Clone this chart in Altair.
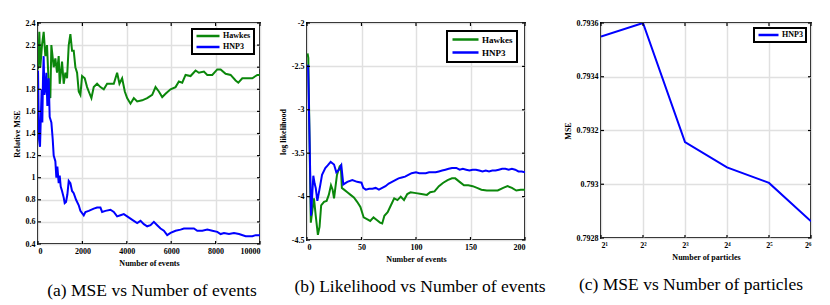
import altair as alt
import pandas as pd

GREEN = "#0b870b"
BLUE = "#0000ff"
FONT = "Liberation Serif"

# ---------------- panel (a): relative MSE vs number of events ----------------
a_hawkes_x = [0, 60, 105, 180, 256, 331, 406, 481, 556, 602, 707, 782, 857, 932, 978,
              1083, 1158, 1233, 1308, 1384, 1459, 1534, 1609, 1684, 1760, 1835, 1910, 1985,
              2105, 2211, 2286, 2406, 2511, 2662, 2812, 2963, 3113, 3263, 3414, 3564, 3669,
              3790, 3910, 4015, 4166, 4316, 4467, 4692, 4918, 5144, 5294, 5444, 5595, 5745,
              5971, 6196, 6346, 6497, 6647, 6872, 7098, 7248, 7474, 7624, 7850, 8075, 8226,
              8451, 8677, 8902, 9023, 9203, 9428, 9654, 9804, 9880, 10000]
a_hawkes_y = [1.98, 2.32, 2.0, 2.2, 2.32, 2.1, 2.2, 1.85, 1.72, 2.2, 2.0, 2.08, 1.95, 2.1, 1.85,
              2.05, 1.85, 1.95, 1.9, 2.2, 2.3, 2.15, 2.15, 2.0, 1.95, 1.78, 1.75, 1.92,
              1.9, 1.82, 1.78, 1.72, 1.82, 1.85, 1.82, 1.8, 1.85, 1.85, 1.85, 1.95, 1.85,
              1.9, 1.78, 1.72, 1.67, 1.72, 1.69, 1.70, 1.72, 1.75, 1.82, 1.78, 1.73, 1.76,
              1.80, 1.82, 1.87, 1.86, 1.93, 1.92, 1.97, 1.95, 1.96, 1.93, 1.93, 1.98, 1.98,
              1.94, 1.93, 1.88, 1.86, 1.90, 1.90, 1.90, 1.92, 1.93, 1.93]
a_hnp3_x = [0, 45, 90, 135, 165, 195, 225, 255, 290, 331, 376, 421, 481, 526, 602, 662, 707,
            782, 827, 872, 932, 978, 1023, 1083, 1158, 1203, 1263, 1324, 1384, 1459, 1534,
            1609, 1715, 1835, 1910, 2060, 2136, 2286, 2512, 2662, 2812, 2888, 3038, 3264,
            3414, 3564, 3715, 3865, 4016, 4166, 4316, 4467, 4617, 4768, 4918, 5068, 5219,
            5369, 5520, 5670, 5820, 5971, 6196, 6422, 6572, 6798, 7024, 7174, 7400, 7625,
            7851, 8076, 8226, 8377, 8603, 8828, 9054, 9355, 9655, 9806, 10000]
a_hnp3_y = [1.97, 1.35, 1.28, 1.6, 1.8, 1.5, 1.9, 2.1, 1.75, 1.80, 1.95, 1.65, 1.9, 1.55, 1.5,
            1.35, 1.2, 1.15, 1.0, 1.1, 0.95, 1.02, 0.92, 0.88, 0.82, 0.77, 0.78, 0.85, 0.97,
            0.95, 0.88, 0.86, 0.80, 0.75, 0.70, 0.66, 0.69, 0.70, 0.72, 0.73, 0.73, 0.69,
            0.70, 0.71, 0.69, 0.65, 0.66, 0.67, 0.65, 0.63, 0.61, 0.59, 0.61, 0.58, 0.56,
            0.57, 0.60, 0.57, 0.54, 0.52, 0.48, 0.50, 0.52, 0.53, 0.54, 0.54, 0.54, 0.52,
            0.52, 0.53, 0.52, 0.51, 0.49, 0.50, 0.49, 0.50, 0.49, 0.47, 0.47, 0.48, 0.48]
a_xticks = [0, 2000, 4000, 6000, 8000, 10000]
a_yticks = [0.4, 0.6, 0.8, 1.0, 1.2, 1.4, 1.6, 1.8, 2.0, 2.2, 2.4]

# ---------------- panel (b): log likelihood vs number of events ----------------
b_hawkes_x = [0.5, 1.2, 3.5, 5, 6.4, 8, 10, 11.5, 13, 15.6, 18, 20, 22, 23.5, 24.8, 26, 27.5,
              30, 31, 32, 34, 37, 40, 43, 46, 49, 52, 55, 58, 61, 64, 67, 69, 71, 74, 77, 80,
              83, 86, 89, 92, 95, 100, 105, 110, 113, 117, 121, 125, 129, 133, 136, 140, 144,
              148, 152, 156, 160, 165, 170, 175, 180, 184, 188, 192, 196, 200]
b_hawkes_y = [-2.35, -2.4, -4.3, -4.15, -4.02, -4.22, -4.44, -4.35, -4.1, -4.06, -4.05, -3.98,
              -3.87, -3.92, -4.02, -3.9, -3.75, -3.65, -3.64, -3.9, -3.92, -3.95, -3.98, -4.01,
              -4.06, -4.12, -4.24, -4.26, -4.28, -4.24, -4.27, -4.3, -4.31, -4.22, -4.18,
              -4.1, -4.02, -4.04, -4.0, -4.04, -3.97, -3.95, -3.96, -3.97, -3.98, -3.95,
              -3.94, -3.88, -3.84, -3.81, -3.79, -3.79, -3.83, -3.87, -3.87, -3.88, -3.90,
              -3.92, -3.93, -3.93, -3.93, -3.9, -3.88, -3.9, -3.93, -3.92, -3.92]
b_hnp3_x = [1, 3.7, 5.8, 7, 8, 9.5, 12, 13.8, 16.8, 19, 21.7, 24.8, 26.9, 29.4, 31.5, 33.3,
            37, 41.6, 46, 50, 51.6, 54, 57, 60, 63, 66, 69, 72, 75, 78, 81, 84, 87, 90, 93,
            96, 100, 103, 106, 109, 112, 115, 118, 121, 124, 127, 130, 133, 137, 140, 143,
            146, 149, 152, 155, 158, 161, 164, 167, 170, 173, 176, 179, 182, 185, 188, 191,
            194, 197, 200]
b_hnp3_y = [-2.48, -4.22, -3.76, -3.85, -3.9, -4.05, -3.88, -3.75, -3.67, -3.64, -3.6, -3.63,
            -3.72, -3.69, -3.64, -3.86, -3.83, -3.81, -3.83, -3.84, -3.9, -3.92, -3.91,
            -3.91, -3.9, -3.92, -3.9, -3.88, -3.85, -3.83, -3.81, -3.79, -3.78, -3.77,
            -3.75, -3.73, -3.72, -3.73, -3.73, -3.73, -3.72, -3.72, -3.72, -3.71, -3.70,
            -3.69, -3.68, -3.67, -3.67, -3.69, -3.68, -3.69, -3.70, -3.69, -3.69, -3.70,
            -3.71, -3.70, -3.71, -3.70, -3.70, -3.69, -3.68, -3.68, -3.69, -3.68, -3.69,
            -3.71, -3.71, -3.72]
b_xticks = [0, 50, 100, 150, 200]
b_yticks = [-4.5, -4.0, -3.5, -3.0, -2.5, -2.0]

# ---------------- panel (c): MSE vs number of particles ----------------
c_log2_particles = [1, 2, 3, 4, 5, 6]
c_hnp3_mse = [0.79355, 0.79360, 0.793157, 0.793063, 0.793005, 0.792862]
c_xticks = [1, 2, 3, 4, 5, 6]
c_yticks = [0.7928, 0.7930, 0.7932, 0.7934, 0.7936]

captions = ["(a) MSE vs Number of events",
            "(b) Likelihood vs Number of events",
            "(c) MSE vs Number of particles"]


def long_df(series):
    rows = []
    for name, xs, ys in series:
        for x, y in zip(xs, ys, strict=True):
            rows.append({"x": x, "y": y, "series": name})
    return pd.DataFrame(rows)


def panel(df, names, colors, xdom, ydom, xv, yv, xtitle, ytitle, w, h, caption,
          legend, xaxis_kw, yaxis_kw, cap_dx):
    xs = alt.Scale(domain=xdom, nice=False, zero=False)
    ys = alt.Scale(domain=ydom, nice=False, zero=False)
    xa = alt.Axis(title=xtitle, values=xv, **xaxis_kw)
    ya = alt.Axis(title=ytitle, values=yv, **yaxis_kw)
    lines = alt.Chart(df).mark_line(strokeWidth=2, clip=True).encode(
        x=alt.X("x:Q", scale=xs, axis=xa),
        y=alt.Y("y:Q", scale=ys, axis=ya),
        color=alt.Color("series:N", scale=alt.Scale(domain=names, range=colors),
                        legend=legend),
    )
    xt = pd.DataFrame({"v": xv})
    yt = pd.DataFrame({"v": yv})
    tk = dict(color="black", strokeWidth=1.2)
    xb = alt.Chart(xt).mark_rule(**tk).encode(
        x=alt.X("v:Q", scale=xs, axis=xa), y=alt.value(h - 3), y2=alt.value(h))
    xtop = alt.Chart(xt).mark_rule(**tk).encode(
        x=alt.X("v:Q", scale=xs, axis=xa), y=alt.value(0), y2=alt.value(3))
    yl = alt.Chart(yt).mark_rule(**tk).encode(
        y=alt.Y("v:Q", scale=ys, axis=ya), x=alt.value(0), x2=alt.value(3))
    yr = alt.Chart(yt).mark_rule(**tk).encode(
        y=alt.Y("v:Q", scale=ys, axis=ya), x=alt.value(w - 3), x2=alt.value(w))
    return alt.layer(lines, xb, xtop, yl, yr).properties(
        width=w, height=h,
        title=alt.TitleParams(text=caption, orient="bottom", anchor="middle", frame="group",
                              font=FONT, fontSize=17.5, fontWeight="normal", color="black",
                              offset=15, dx=cap_dx),
    )


def legend(offset, size, font_size, pad, row_pad, clip):
    return alt.Legend(title=None, orient="top-right", offset=offset, symbolType="stroke",
                      symbolSize=size, symbolStrokeWidth=2.5, labelFont=FONT,
                      labelFontWeight="bold", labelFontSize=font_size, labelColor="black",
                      strokeColor="black", fillColor="white", padding=pad,
                      rowPadding=row_pad, labelOffset=2, clipHeight=clip)


def spacer(w):
    return alt.Chart(pd.DataFrame({"s": [0]})).mark_point(opacity=0).encode(
        x=alt.X("s:Q", axis=None), y=alt.Y("s:Q", axis=None)
    ).properties(width=w, height=20, view=alt.ViewBackground(stroke="transparent"))


df_a = long_df([("Hawkes", a_hawkes_x, a_hawkes_y), ("HNP3", a_hnp3_x, a_hnp3_y)])
df_b = long_df([("Hawkes", b_hawkes_x, b_hawkes_y), ("HNP3", b_hnp3_x, b_hnp3_y)])
df_c = long_df([("HNP3", c_log2_particles, c_hnp3_mse)])

neg_expr = "datum.value < 0 ? '-' + format(-datum.value, '~g') : format(datum.value, '~g')"
sup_expr = "'2' + ['', '¹', '²', '³', '⁴', '⁵', '⁶'][datum.value]"

pa = panel(df_a, ["Hawkes", "HNP3"], [GREEN, BLUE], [0, 10000], [0.4, 2.4],
           a_xticks, a_yticks, "Number of events", "Relative MSE", 222, 221, captions[0],
           legend(6, 529, 8, 3, 3, 8), dict(format="d"), dict(format="~g"), 3)
pb = panel(df_b, ["Hawkes", "HNP3"], [GREEN, BLUE], [0, 200], [-4.5, -2.0],
           b_xticks, b_yticks, "Number of events", "log likelihood", 218, 217, captions[1],
           legend(8, 676, 9, 4, 3, 9), dict(format="d"), dict(labelExpr=neg_expr), 4)
pc = panel(df_c, ["HNP3"], [BLUE], [1, 6], [0.7928, 0.7936],
           c_xticks, c_yticks, "Number of particles", "MSE", 210, 215, captions[2],
           legend(5, 400, 8, 3, 3, 8), dict(labelExpr=sup_expr), dict(format=".4~f"), -15)

chart = alt.hconcat(pa, spacer(47), pb, spacer(76), pc, spacing=0, bounds="flush").resolve_scale(
    x="independent", y="independent", color="independent"
).resolve_legend(color="independent").properties(
    padding={"left": 4, "top": 10, "right": 5, "bottom": 2}
).configure_view(
    stroke="black", strokeWidth=2
).configure_axis(
    labelFont=FONT, labelFontWeight="bold", labelFontSize=8, labelColor="black",
    titleFont=FONT, titleFontWeight="bold", titleFontSize=8, titleColor="black",
    grid=True, gridColor="#e0e0e0", gridWidth=1.5, domain=False, ticks=False,
    labelPadding=3, titlePadding=4
).configure_legend(strokeWidth=2)

chart.save("out.html", embed_options={"renderer": "svg", "actions": False})
